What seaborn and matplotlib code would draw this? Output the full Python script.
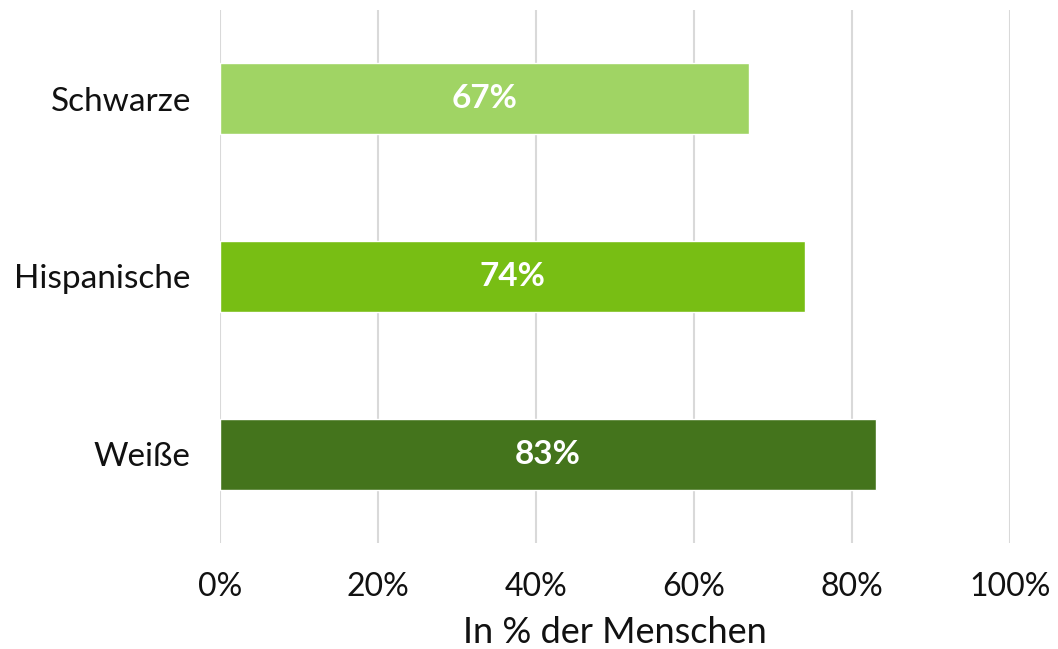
import matplotlib
matplotlib.use("Agg")
import matplotlib.pyplot as plt
import seaborn as sns
import pandas as pd

categories = ["Schwarze", "Hispanische", "Weiße"]
values = [67, 74, 83]
colors = ["#a0d464", "#78be14", "#44741c"]
x_ticks = [0, 20, 40, 60, 80, 100]
x_tick_labels = ["0%", "20%", "40%", "60%", "80%", "100%"]
x_label = "In % der Menschen"

sns.set_theme(style="white")
plt.rcParams["font.family"] = ["Lato", "DejaVu Sans"]

df = pd.DataFrame({"cat": categories, "val": values})

fig = plt.figure(figsize=(10.58, 6.49), dpi=100)
ax = fig.add_axes([220/1058, 1 - 543/649, (1010 - 220)/1058, (543 - 10)/649])

sns.barplot(data=df, x="val", y="cat", hue="cat", palette=colors, order=categories,
            hue_order=categories, width=0.4, legend=False, ax=ax, saturation=1, zorder=3)

ax.set_xlim(0, 100)
ax.set_ylim(2.5, -0.5)
ax.set_xticks(x_ticks)
ax.set_xticklabels(x_tick_labels, fontsize=23, color="#111111")
ax.tick_params(axis="y", labelsize=24, labelcolor="#111111", pad=21)
ax.tick_params(axis="x", pad=21, length=0)
ax.tick_params(axis="y", length=0)
ax.set_ylabel("")
ax.set_xlabel(x_label, fontsize=26, color="#111111", labelpad=10)
ax.grid(axis="x", color="#d9d9d9", linewidth=1.5, zorder=0)
for s in ax.spines.values():
    s.set_visible(False)

for i, v in enumerate(values):
    ax.text(v / 2, i, f"{v}%", ha="center", va="center", color="white",
            fontsize=24, fontweight="bold", zorder=5)

fig.savefig("out.png", dpi=100)
